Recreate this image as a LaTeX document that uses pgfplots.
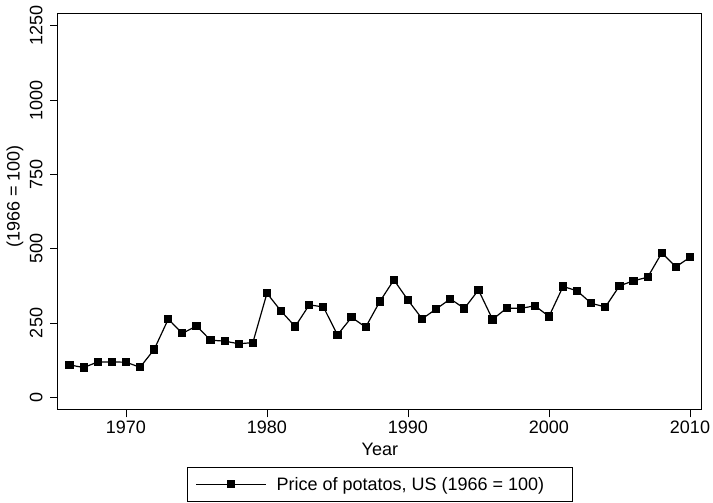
\documentclass[border=0pt]{standalone}
\usepackage{fontspec}
\setmainfont{Liberation Sans}
\usepackage{pgfplots}
\pgfplotsset{compat=1.18}

\begin{document}
\begin{tikzpicture}
\begin{axis}[
    at={(58pt,93.7pt)}, anchor=south west,
    scale only axis,
    width=643.7pt, height=396pt,
    xmin=1965.18, xmax=2010.83,
    ymin=-40.4, ymax=1292,
    font=\fontsize{18}{21}\selectfont,
    /pgf/number format/assume math mode=true,
    /pgf/number format/1000 sep={},
    xtick={1970,1980,1990,2000,2010},
    ytick={0,250,500,750,1000,1250},
    xtick pos=bottom, ytick pos=left,
    tick align=outside,
    major tick length=8pt,
    tick style={line width=0.8pt, black},
    axis line style={line width=1pt},
    yticklabel style={rotate=90, anchor=south},
    yticklabel shift=4pt,
    xlabel={Year},
    xlabel style={at={(axis description cs:0.5,0)}, anchor=center, yshift=-40pt},
    ylabel={(1966 = 100)},
    ylabel style={at={(axis description cs:-0.0668,0.537)}, anchor=center, rotate=0},
    legend style={
        at={(0.5,-0.145)}, anchor=north,
        draw=black, line width=0.8pt,
        inner xsep=8pt, inner ysep=10pt,
        nodes={inner sep=0pt},
        font=\fontsize{18}{21}\selectfont,
    },
    legend image code/.code={
        \draw[mark repeat=2, mark phase=2, #1]
        plot coordinates {(0pt,0pt) (35pt,0pt) (70pt,0pt)};
    },
]
\addplot[black, line width=1.2pt, mark=square*, mark size=3.5pt,
         mark options={solid}] coordinates {
    (1966,109) (1967,100) (1968,119) (1969,119) (1970,118)
    (1971,101) (1972,161) (1973,263) (1974,215) (1975,240)
    (1976,192) (1977,189) (1978,180) (1979,184) (1980,350)
    (1981,290) (1982,238) (1983,311) (1984,304) (1985,210)
    (1986,269) (1987,236) (1988,322) (1989,395) (1990,327)
    (1991,264) (1992,297) (1993,331) (1994,299) (1995,361)
    (1996,262) (1997,300) (1998,299) (1999,308) (2000,272)
    (2001,373) (2002,358) (2003,316) (2004,304) (2005,375)
    (2006,392) (2007,404) (2008,486) (2009,439) (2010,471)
};
\addlegendentry{\hspace{10pt}Price of potatos, US (1966 = 100)\hspace{20pt}\mbox{}}
\end{axis}
\pgfresetboundingbox
\path (0,0) rectangle (713pt,503pt);
\end{tikzpicture}
\end{document}
